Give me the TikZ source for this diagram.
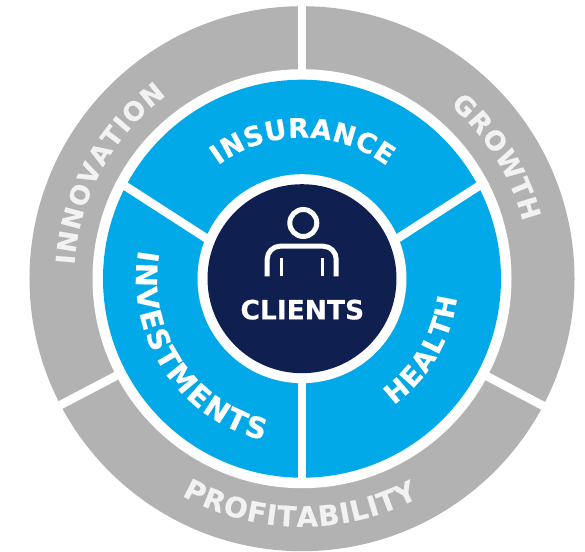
\documentclass[tikz,border=0pt]{standalone}
\usepackage{fontspec}
\usetikzlibrary{decorations.text}
\newfontfamily\lab{DejaVu Sans}[BoldFeatures={FakeBold=0.5}]
\definecolor{ringgray}{HTML}{B2B2B2}
\definecolor{ringblue}{HTML}{02A9E8}
\definecolor{corenavy}{HTML}{0F1F50}
\definecolor{softwhite}{HTML}{F2F2F2}
\tikzset{
  spoke/.style={white,line width=8.5pt},
  iconline/.style={white,line width=5pt},
}
\newcommand{\arclabel}[6]{% text, radius, start, end, size, colour
  \path[decorate,decoration={text along path,text align={fit to path},
     text={|\fontsize{#5}{#5}\lab\bfseries\color{#6}|#1}}]
     ({#3}:#2) arc[start angle=#3,end angle=#4,radius=#2];}
\begin{document}
\begin{tikzpicture}[x=1pt,y=1pt]
\useasboundingbox (-302,-272.3) rectangle (283,278.7);
\fill[ringgray] (0,0) circle[radius=272.5];
\foreach \a in {90,-27.8,207.6}
  \draw[spoke] (\a:200) -- (\a:280);
\fill[white] (0,0) circle[radius=209.5];
\fill[ringblue] (0,0) circle[radius=199];
\draw[spoke] (-90:100) -- (-90:203);
\draw[spoke] (90,36.7) -- (185,98);
\draw[spoke] (-90,36.7) -- (-185,98);
\fill[white] (0,0) circle[radius=104.5];
\fill[corenavy] (0,0) circle[radius=94.5];
% person icon
\draw[iconline] (1.3,55.7) circle[radius=13.5];
\draw[iconline,rounded corners=13pt] (-34.8,2.3) -- (-34.8,32.5) -- (34.2,32.5) -- (34.2,2.3);
\draw[white,line width=3pt] (-21,2.3) -- (-21,20.7);
\draw[white,line width=3pt] (20.3,2.3) -- (20.3,20.7);
\node[text=white,inner sep=0pt] (clients) at (0.3,-31) {\fontsize{26.5}{26.5}\lab\bfseries CLIENTS};
% curved labels
\arclabel{INSURANCE}{141}{126.5}{53}{27}{white}
\arclabel{GROWTH}{228}{49.5}{14.5}{26.5}{softwhite}
\arclabel{INNOVATION}{228}{176.5}{126.5}{26}{softwhite}
\arclabel{PROFITABILITY}{248}{241}{298}{28}{softwhite}
\arclabel{HEALTH}{156}{-54}{-7}{27}{white}
\arclabel{INVESTMENTS}{166}{170}{256.5}{29}{white}
\end{tikzpicture}
\end{document}
